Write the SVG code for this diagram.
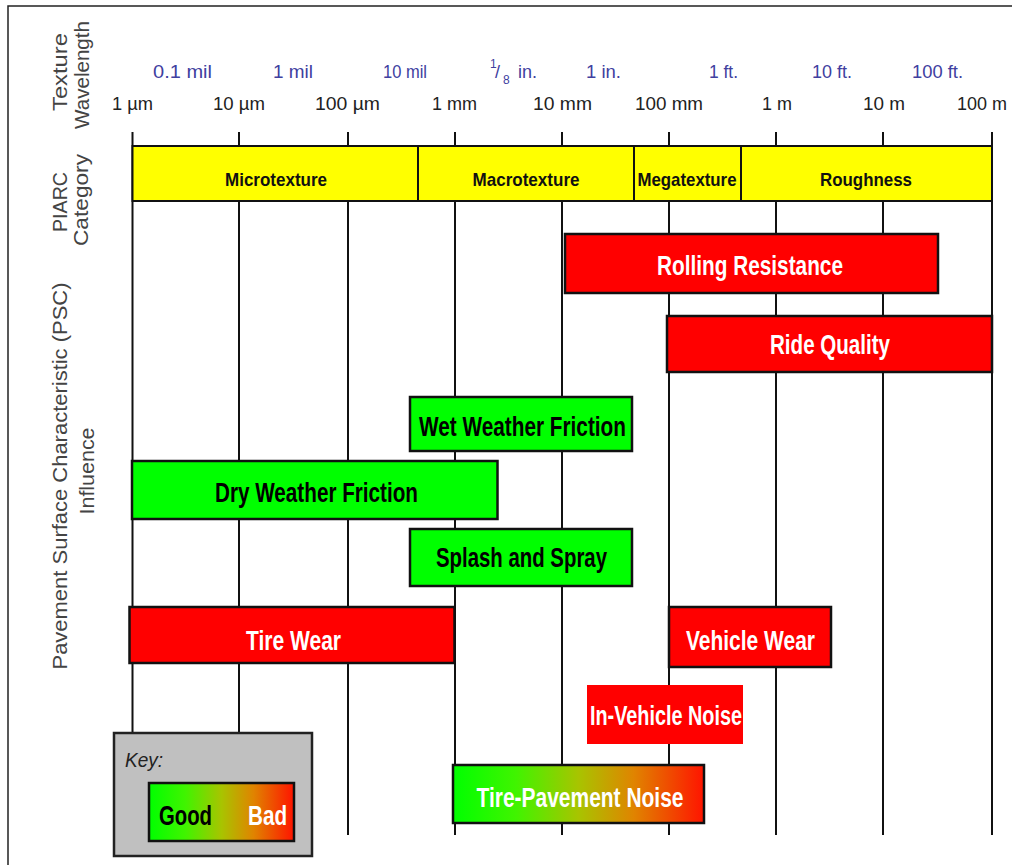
<svg xmlns="http://www.w3.org/2000/svg" width="1012" height="865" viewBox="0 0 1012 865">
<style>
.frame{fill:none;stroke:#222;stroke-width:1.5}
.grid line{stroke:#111;stroke-width:2}
.axl{font-family:"Liberation Sans",Arial,sans-serif;font-size:20px;fill:#444}
.unit{font-family:"Liberation Sans Narrow","Liberation Sans",Arial,sans-serif;font-size:19px;fill:#222;text-anchor:middle}
.imp{font-family:"Liberation Sans Narrow","Liberation Sans",Arial,sans-serif;font-size:18px;fill:#40409f}
.cat rect{fill:#ffff00;stroke:#111;stroke-width:2}
.cat text{font-family:"Liberation Sans Narrow","Liberation Sans",Arial,sans-serif;font-size:19px;font-weight:bold;fill:#111;text-anchor:middle}
.red{fill:#ff0000;stroke:#111;stroke-width:2.5}
.grn{fill:#00ff00;stroke:#111;stroke-width:2.5}
.lbl{font-family:"Liberation Sans Narrow","Liberation Sans",Arial,sans-serif;font-size:27px;font-weight:bold;text-anchor:middle}
.w{fill:#fff}
.b{fill:#000}
</style>
<defs>
<linearGradient id="gb" x1="0" y1="0" x2="1" y2="0">
<stop offset="0" stop-color="#00ff00"/>
<stop offset="0.25" stop-color="#40f400"/>
<stop offset="0.5" stop-color="#a8c400"/>
<stop offset="0.72" stop-color="#e08400"/>
<stop offset="1" stop-color="#ff1400"/>
</linearGradient>
</defs>
<rect x="0" y="0" width="1012" height="865" fill="#fff"/>
<rect class="frame" x="8" y="6" width="1012" height="870"/>

<g id="axis-labels">
<text class="axl" transform="translate(67,72) rotate(-90)" text-anchor="middle" textLength="78" lengthAdjust="spacingAndGlyphs">Texture</text>
<text class="axl" transform="translate(89,75) rotate(-90)" text-anchor="middle" textLength="108" lengthAdjust="spacingAndGlyphs">Wavelength</text>
<text class="axl" transform="translate(67,202) rotate(-90)" text-anchor="middle" textLength="60" lengthAdjust="spacingAndGlyphs">PIARC</text>
<text class="axl" transform="translate(88,200) rotate(-90)" text-anchor="middle" textLength="92" lengthAdjust="spacingAndGlyphs">Category</text>
<text class="axl" transform="translate(67,476) rotate(-90)" text-anchor="middle" textLength="387" lengthAdjust="spacingAndGlyphs">Pavement Surface Characteristic (PSC)</text>
<text class="axl" transform="translate(94,471) rotate(-90)" text-anchor="middle" textLength="87" lengthAdjust="spacingAndGlyphs">Influence</text>
</g>

<g id="imperial-scale">
<text class="imp" x="153" y="78" textLength="59" lengthAdjust="spacingAndGlyphs">0.1 mil</text>
<text class="imp" x="273" y="78" textLength="40" lengthAdjust="spacingAndGlyphs">1 mil</text>
<text class="imp" x="383" y="78" textLength="44" lengthAdjust="spacingAndGlyphs">10 mil</text>
<text class="imp"><tspan x="490" y="68" font-size="12">1</tspan><tspan x="495" y="78">/</tspan><tspan x="503" y="84" font-size="12">8</tspan><tspan x="518" y="78">in.</tspan></text>
<text class="imp" x="586" y="78" textLength="35" lengthAdjust="spacingAndGlyphs">1 in.</text>
<text class="imp" x="709" y="78" textLength="29" lengthAdjust="spacingAndGlyphs">1 ft.</text>
<text class="imp" x="812" y="78" textLength="40" lengthAdjust="spacingAndGlyphs">10 ft.</text>
<text class="imp" x="912" y="78" textLength="51" lengthAdjust="spacingAndGlyphs">100 ft.</text>
</g>

<g id="metric-scale">
<text class="unit" x="132.5" y="110" textLength="41" lengthAdjust="spacingAndGlyphs">1 µm</text>
<text class="unit" x="239" y="110" textLength="52" lengthAdjust="spacingAndGlyphs">10 µm</text>
<text class="unit" x="347.5" y="110" textLength="65" lengthAdjust="spacingAndGlyphs">100 µm</text>
<text class="unit" x="454.5" y="110" textLength="45" lengthAdjust="spacingAndGlyphs">1 mm</text>
<text class="unit" x="562.5" y="110" textLength="59" lengthAdjust="spacingAndGlyphs">10 mm</text>
<text class="unit" x="669" y="110" textLength="68" lengthAdjust="spacingAndGlyphs">100 mm</text>
<text class="unit" x="777" y="110" textLength="30" lengthAdjust="spacingAndGlyphs">1 m</text>
<text class="unit" x="884" y="110" textLength="42" lengthAdjust="spacingAndGlyphs">10 m</text>
<text class="unit" x="982" y="110" font-size="17" textLength="50" lengthAdjust="spacingAndGlyphs">100 m</text>
</g>

<g id="grid" class="grid">
<line x1="132.5" y1="132" x2="132.5" y2="835"/>
<line x1="239" y1="132" x2="239" y2="835"/>
<line x1="348" y1="132" x2="348" y2="835"/>
<line x1="455" y1="132" x2="455" y2="835"/>
<line x1="562" y1="132" x2="562" y2="835"/>
<line x1="669" y1="132" x2="669" y2="835"/>
<line x1="776" y1="132" x2="776" y2="835"/>
<line x1="883" y1="132" x2="883" y2="835"/>
<line x1="992" y1="132" x2="992" y2="835"/>
</g>

<g id="piarc" class="cat">
<g id="microtexture"><rect x="132.5" y="146" width="285.5" height="55"/><text x="276" y="186" textLength="102" lengthAdjust="spacingAndGlyphs">Microtexture</text></g>
<g id="macrotexture"><rect x="418" y="146" width="216" height="55"/><text x="526" y="186" textLength="107" lengthAdjust="spacingAndGlyphs">Macrotexture</text></g>
<g id="megatexture"><rect x="634" y="146" width="107" height="55"/><text x="687" y="186" textLength="99" lengthAdjust="spacingAndGlyphs">Megatexture</text></g>
<g id="roughness"><rect x="741" y="146" width="251" height="55"/><text x="866" y="186" textLength="92" lengthAdjust="spacingAndGlyphs">Roughness</text></g>
</g>

<g id="rolling-resistance"><rect class="red" x="565" y="234" width="373" height="59"/><text class="lbl w" x="750" y="275" textLength="186" lengthAdjust="spacingAndGlyphs">Rolling Resistance</text></g>
<g id="ride-quality"><rect class="red" x="667" y="316" width="325" height="56"/><text class="lbl w" x="830" y="354" textLength="120" lengthAdjust="spacingAndGlyphs">Ride Quality</text></g>
<g id="wet-weather-friction"><rect class="grn" x="410" y="397" width="222" height="54"/><text class="lbl b" x="522.5" y="436" textLength="207" lengthAdjust="spacingAndGlyphs">Wet Weather Friction</text></g>
<g id="dry-weather-friction"><rect class="grn" x="132" y="461" width="365.5" height="58"/><text class="lbl b" x="316.5" y="502" textLength="203" lengthAdjust="spacingAndGlyphs">Dry Weather Friction</text></g>
<g id="splash-and-spray"><rect class="grn" x="410" y="529" width="222" height="57"/><text class="lbl b" x="521.5" y="567" textLength="171" lengthAdjust="spacingAndGlyphs">Splash and Spray</text></g>
<g id="tire-wear"><rect class="red" x="129.5" y="607" width="325" height="56"/><text class="lbl w" x="293.5" y="650" textLength="95" lengthAdjust="spacingAndGlyphs">Tire Wear</text></g>
<g id="vehicle-wear"><rect class="red" x="669" y="607" width="162" height="60"/><text class="lbl w" x="750.5" y="650" textLength="129" lengthAdjust="spacingAndGlyphs">Vehicle Wear</text></g>
<g id="in-vehicle-noise"><rect x="587" y="685" width="156" height="59" fill="#ff0000"/><text class="lbl w" x="666" y="725" textLength="152" lengthAdjust="spacingAndGlyphs">In-Vehicle Noise</text></g>
<g id="tire-pavement-noise"><rect x="453" y="765" width="251" height="58" fill="url(#gb)" stroke="#111" stroke-width="2.5"/><text class="lbl w" x="580" y="807" textLength="207" lengthAdjust="spacingAndGlyphs">Tire-Pavement Noise</text></g>

<g id="key">
<rect x="114" y="733" width="198" height="123" fill="#c0c0c0" stroke="#222" stroke-width="2.5"/>
<text x="125" y="767" font-family="Liberation Sans Narrow,Liberation Sans,Arial,sans-serif" font-size="21" font-style="italic" fill="#222" textLength="38" lengthAdjust="spacingAndGlyphs">Key:</text>
<rect x="149" y="783" width="145" height="58" fill="url(#gb)" stroke="#111" stroke-width="2.5"/>
<text class="lbl b" x="185.5" y="825" textLength="53" lengthAdjust="spacingAndGlyphs">Good</text>
<text class="lbl w" x="267.5" y="825" textLength="39" lengthAdjust="spacingAndGlyphs">Bad</text>
</g>
</svg>
